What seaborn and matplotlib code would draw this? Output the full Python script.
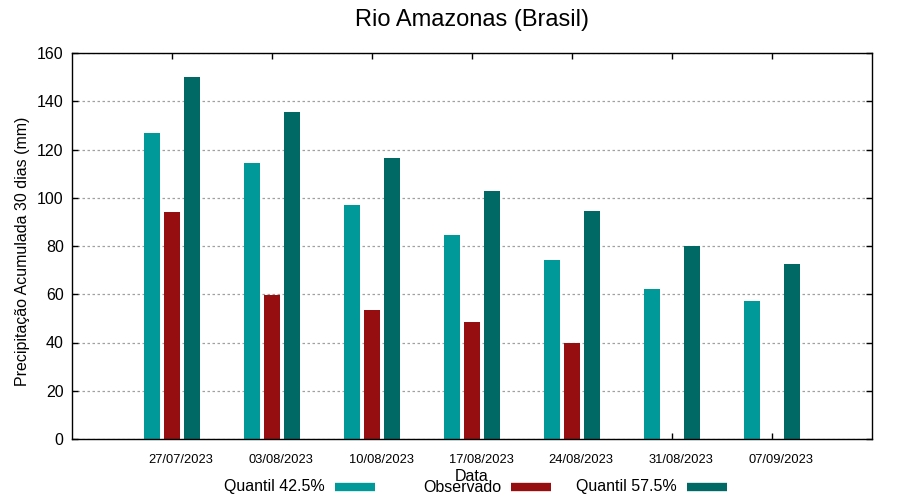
import pandas as pd
import numpy as np
import matplotlib
matplotlib.use("Agg")
import matplotlib.pyplot as plt
import matplotlib.transforms as mtransforms
from matplotlib.lines import Line2D
import seaborn as sns

# Data
datas = ["27/07/2023", "03/08/2023", "10/08/2023", "17/08/2023",
         "24/08/2023", "31/08/2023", "07/09/2023"]
quantil_425 = [127, 114.5, 97, 84.5, 74.2, 62, 57]
observado = [94, 59.7, 53.5, 48.5, 40, np.nan, np.nan]
quantil_575 = [150, 135.5, 116.5, 103, 94.5, 80, 72.5]

series = ["Quantil 42.5%", "Observado", "Quantil 57.5%"]
cores = ["#009999", "#960e10", "#006966"]

df = pd.DataFrame({
    "Data": datas * 3,
    "valor": quantil_425 + observado + quantil_575,
    "serie": [series[0]] * 7 + [series[1]] * 7 + [series[2]] * 7,
})

sns.set_theme(style="ticks")
plt.rcParams["font.family"] = ["Liberation Sans", "DejaVu Sans"]
for k in ["text.color", "axes.labelcolor", "xtick.color", "ytick.color"]:
    plt.rcParams[k] = "black"

fig = plt.figure(figsize=(9, 5), dpi=100)
ax = fig.add_axes([72 / 900, 61 / 500, 800 / 900, 386 / 500])

sns.barplot(
    data=df, x="Data", y="valor", hue="serie",
    hue_order=series, palette=cores, order=datas,
    width=0.6, gap=0.2, errorbar=None, legend=False,
    saturation=1, linewidth=0, ax=ax,
)

ax.set_xlim(-1, 7)
ax.set_ylim(0, 160)
ax.set_yticks(range(0, 161, 20))
ax.yaxis.grid(True, linestyle=(0, (2, 2)), color="#a0a0a0", linewidth=0.9)
ax.set_axisbelow(True)

for s in ax.spines.values():
    s.set_visible(True)
    s.set_color("black")
    s.set_linewidth(1.0)

ax.tick_params(axis="both", direction="in", length=4, width=1,
               top=True, right=True, color="black")
ax.tick_params(axis="y", labelsize=11.5, pad=6)
ax.tick_params(axis="x", labelsize=9.3, pad=11)

offset = mtransforms.ScaledTranslation(9 / 100, 0, fig.dpi_scale_trans)
for lbl in ax.get_xticklabels():
    lbl.set_transform(lbl.get_transform() + offset)

ax.set_ylabel("Precipitação Acumulada 30 dias (mm)", fontsize=11.5)
ax.yaxis.set_label_coords(-0.0525, 0.485)
ax.set_xlabel("Data", fontsize=11.5)
ax.xaxis.label.set_va("center")
ax.xaxis.set_label_coords(0.5, -0.096)

fig.text(472 / 900, 1 - 20 / 500, "Rio Amazonas (Brasil)", fontsize=17,
         ha="center", va="center")

# gnuplot-style key: equal-width columns, text right-aligned before the sample
leg_y = 1 - 487 / 500
for i, (nome, cor) in enumerate(zip(series, cores)):
    x_end = (375 + 176 * i) / 900
    x_ini = x_end - 40 / 900
    fig.add_artist(Line2D([x_ini, x_end], [leg_y, leg_y], color=cor, lw=6,
                          solid_capstyle="butt", transform=fig.transFigure))
    fig.text(x_ini - 10 / 900, leg_y, nome, fontsize=11.5,
             ha="right", va="center")

plt.savefig("out.png", dpi=100)
plt.close()
